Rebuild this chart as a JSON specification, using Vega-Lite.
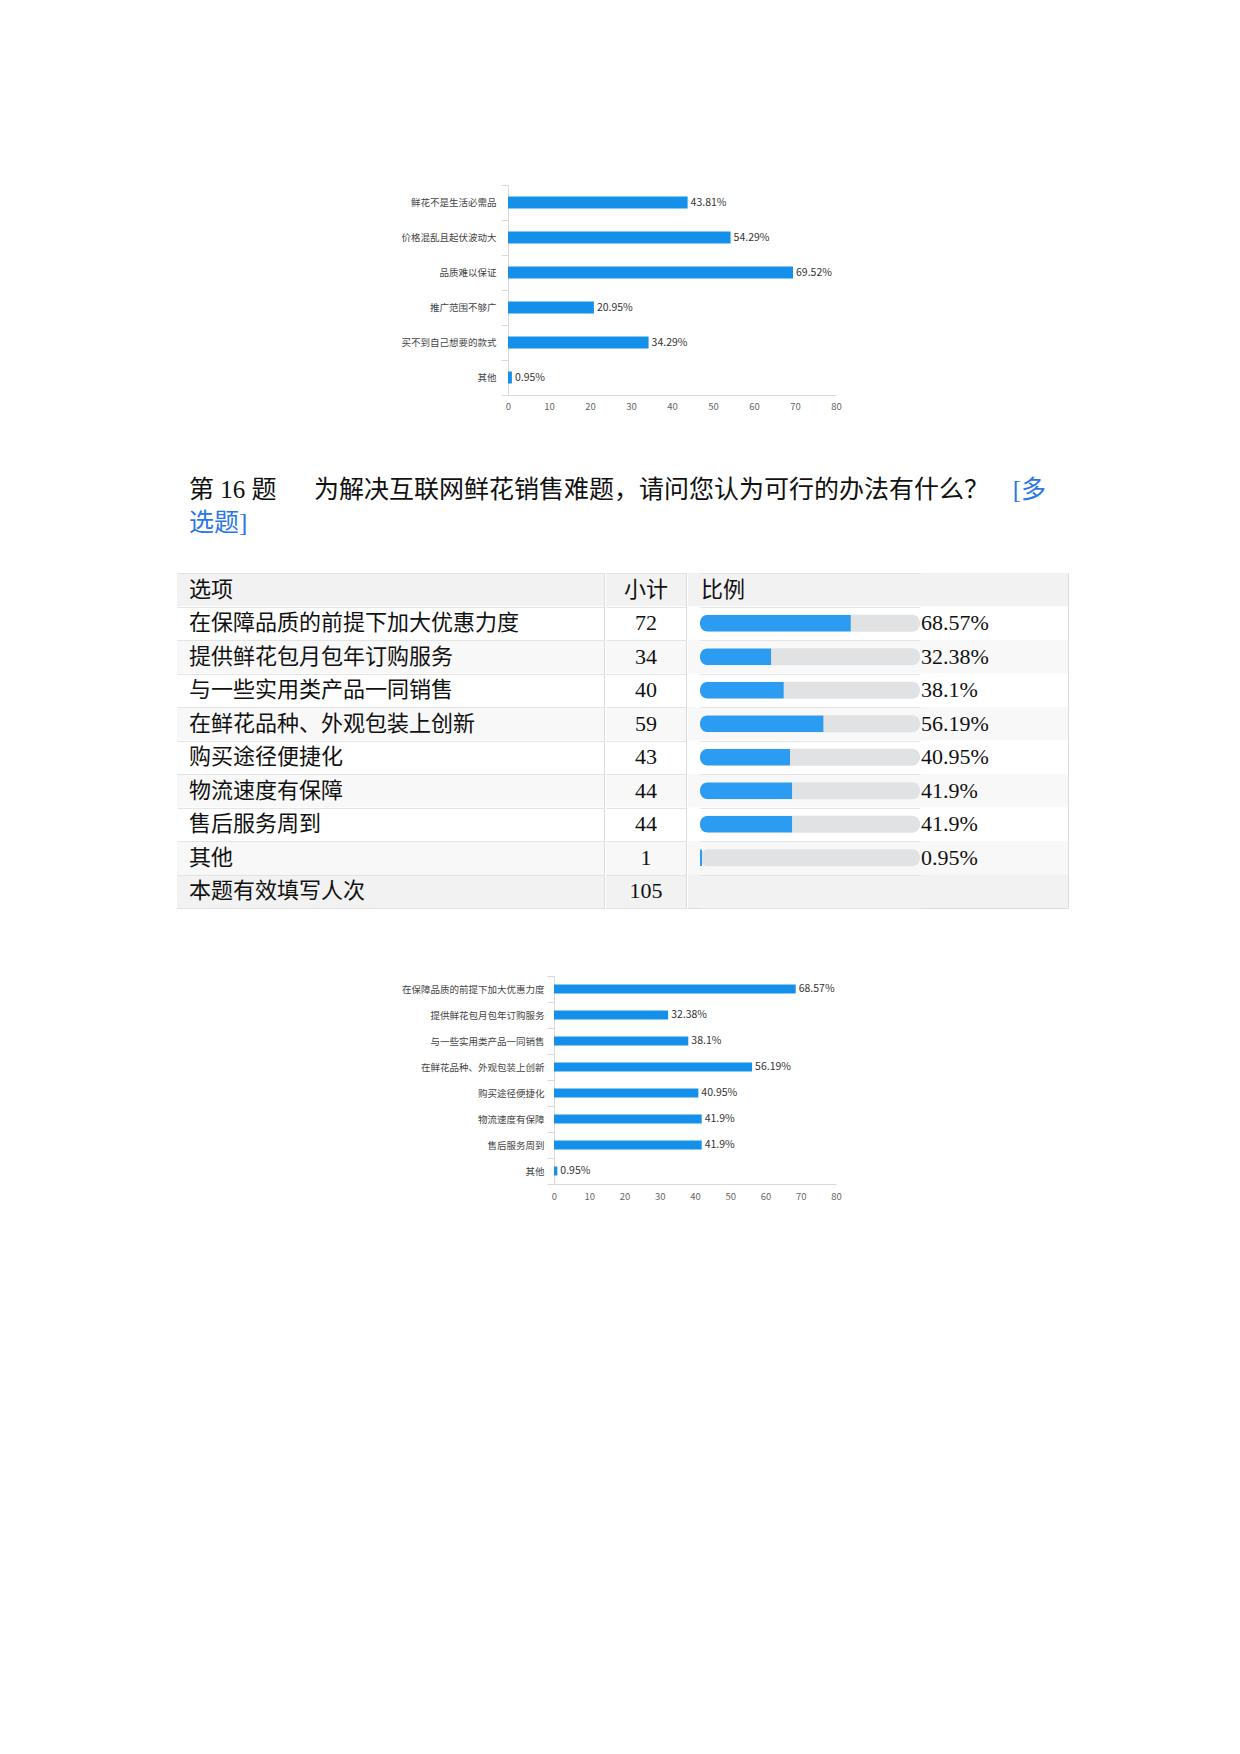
{
  "$schema": "https://vega.github.io/schema/vega-lite/v6.json",
  "background": "white",
  "padding": {"left": 176, "top": 180, "right": 0, "bottom": 0},
  "spacing": 0,
  "datasets": {
    "reasons": [
      {"opt": "鲜花不是生活必需品", "pct": 43.81},
      {"opt": "价格混乱且起伏波动大", "pct": 54.29},
      {"opt": "品质难以保证", "pct": 69.52},
      {"opt": "推广范围不够广", "pct": 20.95},
      {"opt": "买不到自己想要的款式", "pct": 34.29},
      {"opt": "其他", "pct": 0.95}
    ],
    "heading": [
      {"line": "1", "part": "q", "text": "第 16 题　\u00a0\u00a0为解决互联网鲜花销售难题，请问您认为可行的办法有什么？"},
      {"line": "1", "part": "tag", "text": "[多"},
      {"line": "2", "part": "tag", "text": "选题]"}
    ],
    "remedies": [
      {"opt": "选项", "n": "小计", "ratio": "比例", "kind": "head"},
      {"opt": "在保障品质的前提下加大优惠力度", "n": 72, "pct": 68.57, "kind": "item"},
      {"opt": "提供鲜花包月包年订购服务", "n": 34, "pct": 32.38, "kind": "item"},
      {"opt": "与一些实用类产品一同销售", "n": 40, "pct": 38.1, "kind": "item"},
      {"opt": "在鲜花品种、外观包装上创新", "n": 59, "pct": 56.19, "kind": "item"},
      {"opt": "购买途径便捷化", "n": 43, "pct": 40.95, "kind": "item"},
      {"opt": "物流速度有保障", "n": 44, "pct": 41.9, "kind": "item"},
      {"opt": "售后服务周到", "n": 44, "pct": 41.9, "kind": "item"},
      {"opt": "其他", "n": 1, "pct": 0.95, "kind": "item"},
      {"opt": "本题有效填写人次", "n": 105, "ratio": "", "kind": "total"}
    ]
  },
  "vconcat": [
    {
      "data": {"name": "reasons"},
      "width": 659,
      "height": 210,
      "transform": [{"calculate": "datum.pct + '%'", "as": "label"}],
      "encoding": {
        "y": {
          "field": "opt",
          "type": "nominal",
          "sort": null,
          "scale": {"paddingInner": 0, "paddingOuter": 0},
          "axis": {
            "title": null,
            "offset": -331,
            "tickBand": "extent",
            "tickSize": 7,
            "tickColor": "#d9d9d9",
            "domainColor": "#d9d9d9",
            "labelPadding": 5,
            "labelFontSize": 9.5,
            "labelColor": "#444444",
            "minExtent": 0
          }
        },
        "x": {
          "field": "pct",
          "type": "quantitative",
          "scale": {"domain": [0, 80], "range": [331, 659], "nice": false},
          "axis": {
            "title": null,
            "values": [0, 10, 20, 30, 40, 50, 60, 70, 80],
            "grid": false,
            "ticks": false,
            "domainColor": "#d9d9d9",
            "labelColor": "#666666",
            "labelFontSize": 9.5,
            "labelPadding": 6,
            "labelFlush": false,
            "labelOverlap": false,
            "minExtent": 79,
            "maxExtent": 79
          }
        }
      },
      "layer": [
        {"mark": {"type": "bar", "color": "#1590ea", "size": 12}},
        {
          "mark": {"type": "text", "align": "left", "dx": 3, "fontSize": 10.5, "color": "#333333"},
          "encoding": {"text": {"field": "label"}}
        }
      ]
    },
    {
      "data": {"name": "heading"},
      "width": 869,
      "height": 98,
      "encoding": {
        "y": {
          "field": "line",
          "type": "ordinal",
          "scale": {"type": "band", "domain": ["1", "2", "3"], "paddingInner": 0, "paddingOuter": 0},
          "axis": null
        },
        "color": {
          "field": "part",
          "type": "nominal",
          "scale": {"domain": ["q", "tag"], "range": ["#111111", "#2a76e8"]},
          "legend": null
        },
        "text": {"field": "text"}
      },
      "layer": [
        {
          "transform": [{"filter": "datum.part == 'q' || datum.line == '2'"}],
          "mark": {"type": "text", "align": "left", "dx": 12, "fontSize": 25, "font": "Liberation Serif, Noto Sans CJK SC"},
          "encoding": {"x": {"value": 0}}
        },
        {
          "transform": [{"filter": "datum.part == 'tag' && datum.line == '1'"}],
          "mark": {"type": "text", "align": "right", "fontSize": 25, "font": "Liberation Serif, Noto Sans CJK SC"},
          "encoding": {"x": {"value": "width"}}
        }
      ]
    },
    {
      "data": {"name": "remedies"},
      "transform": [
        {"window": [{"op": "row_number", "as": "rn"}]},
        {"calculate": "datum.kind == 'item' ? (datum.rn % 2 == 0 ? 'plain' : 'alt') : 'head'", "as": "shade"},
        {"calculate": "datum.kind == 'item' ? datum.pct + '%' : datum.ratio", "as": "ratio"}
      ],
      "spacing": 0,
      "hconcat": [
        {
          "width": 427,
          "height": 335,
          "view": {"stroke": "#dcdcdc"},
          "encoding": {
            "y": {
              "field": "opt",
              "type": "nominal",
              "sort": null,
              "scale": {"paddingInner": 0, "paddingOuter": 0},
              "axis": {"title": null, "labels": false, "ticks": false, "domain": false, "grid": true, "tickBand": "extent", "gridColor": "#e4e4e4", "minExtent": 0, "maxExtent": 0, "zindex": 1}
            }
          },
          "layer": [
            {
              "mark": {"type": "rect"},
              "encoding": {
                "x": {"value": 0},
                "x2": {"value": "width"},
                "fill": {"field": "shade", "type": "nominal", "scale": {"domain": ["head", "plain", "alt"], "range": ["#f2f2f2", "#ffffff", "#f8f8f8"]}, "legend": null}
              }
            },
            {
              "mark": {"type": "text", "align": "left", "dx": 12, "fontSize": 22, "font": "Liberation Serif, Noto Sans CJK SC", "color": "#111111"},
              "encoding": {"x": {"value": 0}, "text": {"field": "opt"}}
            }
          ]
        },
        {
          "width": 80,
          "height": 335,
          "view": {"stroke": "#dcdcdc"},
          "encoding": {
            "y": {
              "field": "opt",
              "type": "nominal",
              "sort": null,
              "scale": {"paddingInner": 0, "paddingOuter": 0},
              "axis": {"title": null, "labels": false, "ticks": false, "domain": false, "grid": true, "tickBand": "extent", "gridColor": "#e4e4e4", "minExtent": 0, "maxExtent": 0, "zindex": 1}
            }
          },
          "layer": [
            {
              "mark": {"type": "rect"},
              "encoding": {
                "x": {"value": 0},
                "x2": {"value": "width"},
                "fill": {"field": "shade", "type": "nominal", "scale": {"domain": ["head", "plain", "alt"], "range": ["#f2f2f2", "#ffffff", "#f8f8f8"]}, "legend": null}
              }
            },
            {
              "mark": {"type": "text", "align": "center", "fontSize": 22, "font": "Liberation Serif, Noto Sans CJK SC", "color": "#111111"},
              "encoding": {"text": {"field": "n"}}
            }
          ]
        },
        {
          "width": 380,
          "height": 335,
          "view": {"stroke": "#dcdcdc"},
          "encoding": {
            "y": {
              "field": "opt",
              "type": "nominal",
              "sort": null,
              "scale": {"paddingInner": 0, "paddingOuter": 0},
              "axis": {"title": null, "labels": false, "ticks": false, "domain": false, "grid": true, "tickBand": "extent", "gridColor": "#e4e4e4", "minExtent": 0, "maxExtent": 0, "zindex": 1}
            }
          },
          "layer": [
            {
              "mark": {"type": "rect"},
              "encoding": {
                "x": {"value": 0},
                "x2": {"value": "width"},
                "fill": {"field": "shade", "type": "nominal", "scale": {"domain": ["head", "plain", "alt"], "range": ["#f2f2f2", "#ffffff", "#f8f8f8"]}, "legend": null}
              }
            },
            {
              "transform": [{"filter": "datum.kind == 'item'"}],
              "mark": {"type": "bar", "color": "#e1e2e4", "size": 17, "cornerRadius": 8},
              "encoding": {
                "x": {
                  "datum": 100,
                  "type": "quantitative",
                  "scale": {"domain": [0, 100], "range": [12, 232], "nice": false},
                  "axis": {"orient": "bottom", "title": null, "labels": false, "ticks": false, "domain": false, "grid": false, "minExtent": 62, "maxExtent": 62}
                }
              }
            },
            {
              "transform": [{"filter": "datum.kind == 'item'"}],
              "mark": {"type": "bar", "color": "#2c9cf2", "size": 17, "cornerRadiusTopLeft": 8, "cornerRadiusBottomLeft": 8},
              "encoding": {"x": {"field": "pct", "type": "quantitative"}}
            },
            {
              "transform": [{"filter": "datum.kind == 'item'"}],
              "mark": {"type": "text", "align": "left", "dx": 1, "fontSize": 22, "font": "Liberation Serif, Noto Sans CJK SC", "color": "#111111"},
              "encoding": {"x": {"datum": 100, "type": "quantitative"}, "text": {"field": "ratio"}}
            },
            {
              "transform": [{"filter": "datum.kind == 'head'"}],
              "mark": {"type": "text", "align": "left", "dx": 13, "fontSize": 22, "font": "Liberation Serif, Noto Sans CJK SC", "color": "#111111"},
              "encoding": {"x": {"value": 0}, "text": {"field": "ratio"}}
            }
          ]
        }
      ]
    },
    {
      "data": {"name": "remedies"},
      "width": 659,
      "height": 208,
      "transform": [
        {"filter": "datum.kind == 'item'"},
        {"calculate": "datum.pct + '%'", "as": "label"}
      ],
      "encoding": {
        "y": {
          "field": "opt",
          "type": "nominal",
          "sort": null,
          "scale": {"paddingInner": 0, "paddingOuter": 0},
          "axis": {
            "title": null,
            "offset": -377,
            "tickBand": "extent",
            "tickSize": 7,
            "tickColor": "#d9d9d9",
            "domainColor": "#d9d9d9",
            "labelPadding": 3,
            "labelFontSize": 9.5,
            "labelColor": "#444444",
            "minExtent": 0
          }
        },
        "x": {
          "field": "pct",
          "type": "quantitative",
          "scale": {"domain": [0, 80], "range": [377, 659], "nice": false},
          "axis": {
            "title": null,
            "values": [0, 10, 20, 30, 40, 50, 60, 70, 80],
            "grid": false,
            "ticks": false,
            "domainColor": "#d9d9d9",
            "labelColor": "#666666",
            "labelFontSize": 9.5,
            "labelPadding": 7,
            "labelFlush": false,
            "labelOverlap": false
          }
        }
      },
      "layer": [
        {"mark": {"type": "bar", "color": "#1590ea", "size": 9}},
        {
          "mark": {"type": "text", "align": "left", "dx": 3, "fontSize": 10.5, "color": "#333333"},
          "encoding": {"text": {"field": "label"}}
        }
      ]
    }
  ],
  "config": {
    "view": {"stroke": null},
    "font": "Noto Sans CJK SC",
    "axis": {"labelFont": "Noto Sans CJK SC"}
  }
}
